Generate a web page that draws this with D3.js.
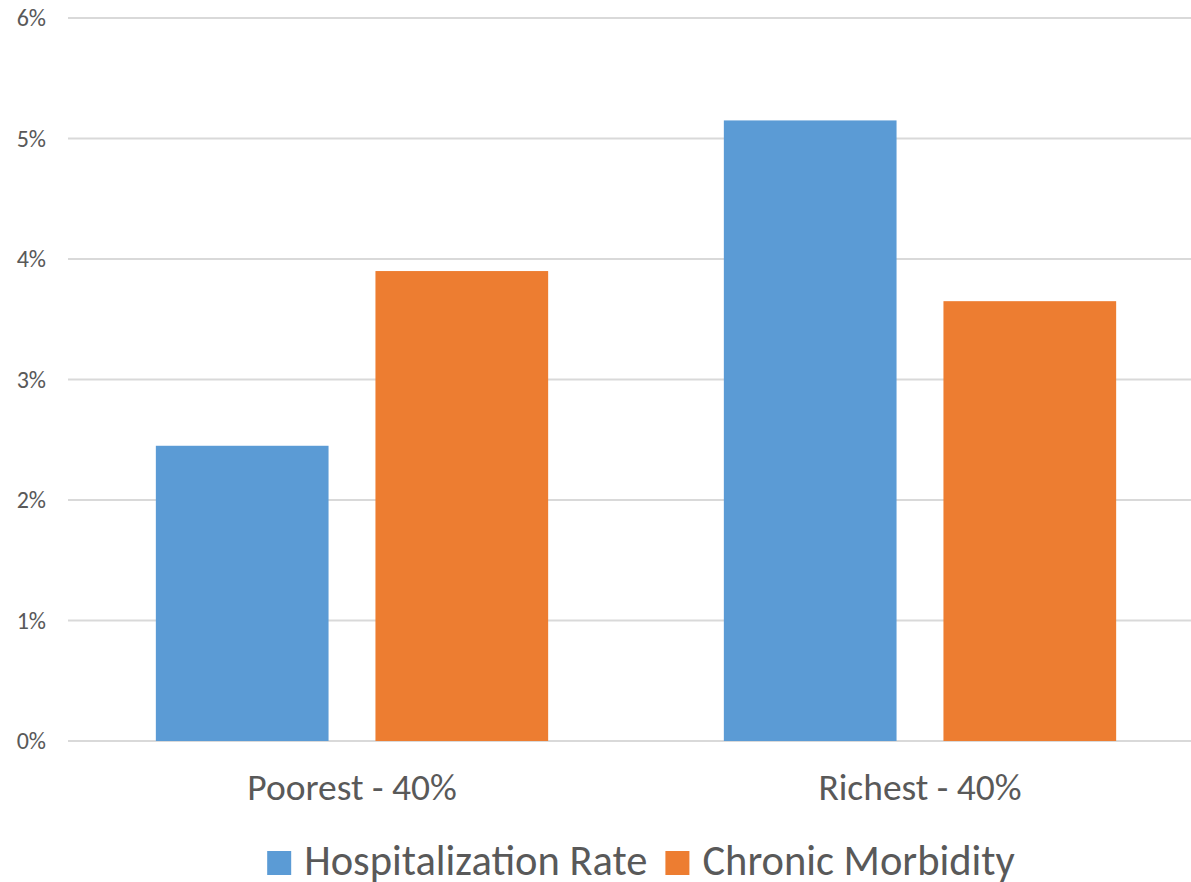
<!DOCTYPE html>
<html>
<head>
<meta charset="utf-8">
<script src="https://cdn.jsdelivr.net/npm/d3@7"></script>
<style>
  html, body { margin: 0; padding: 0; background: #fff; }
  svg { display: block; font-family: Carlito, Calibri, "Open Sans", sans-serif; }
</style>
</head>
<body>
<svg id="chart" width="1191" height="882"></svg>
<script>
// Share of population by income group
const categories = ["Poorest - 40%", "Richest - 40%"];
const seriesNames = ["Hospitalization Rate", "Chronic Morbidity"];
const hospitalization = [0.0245, 0.0515];
const chronic = [0.039, 0.0365];
const yTicks = [0, 0.01, 0.02, 0.03, 0.04, 0.05, 0.06];
const colors = ["#5b9bd5", "#ed7d31"];

(function () {
  const seriesValues = [hospitalization, chronic];
  const fontStack = "Carlito, Calibri, 'Open Sans', sans-serif";
  const textColor = "#595959";

  const svg = d3.select("#chart");
  const W = 1191;
  const plotLeft = 68, plotRight = 1204, plotTop = 18, plotBottom = 741;

  const x0 = d3.scaleBand().domain(categories).range([plotLeft, plotRight]).padding(0);
  const x1 = d3.scaleBand().domain(seriesNames).range([0, x0.bandwidth()])
    .paddingInner(0.2136).paddingOuter(0.4);
  const y = d3.scaleLinear().domain([0, 0.06]).range([plotBottom, plotTop]);

  // gridlines
  svg.append("g")
    .selectAll("line")
    .data(yTicks)
    .join("line")
    .attr("x1", plotLeft).attr("x2", W)
    .attr("y1", d => y(d)).attr("y2", d => y(d))
    .attr("stroke", "#d9d9d9").attr("stroke-width", 2);

  // y axis labels
  const yAxis = d3.axisLeft(y).tickValues(yTicks).tickFormat(d3.format(".0%")).tickSize(0).tickPadding(0);
  const gy = svg.append("g").attr("transform", "translate(46,0)").call(yAxis);
  gy.select(".domain").remove();
  gy.selectAll("text").attr("fill", textColor).style("font-size", "24px").style("font-family", fontStack);

  // bars
  const groups = svg.append("g")
    .selectAll("g")
    .data(categories)
    .join("g")
    .attr("transform", d => `translate(${x0(d)},0)`);

  groups.selectAll("rect")
    .data((c, i) => seriesNames.map((s, j) => ({ s, j, v: seriesValues[j][i] })))
    .join("rect")
    .attr("x", d => x1(d.s))
    .attr("width", x1.bandwidth())
    .attr("y", d => y(d.v))
    .attr("height", d => y(0) - y(d.v))
    .attr("fill", d => colors[d.j]);

  // category axis
  const xAxis = d3.axisBottom(x0).tickSize(0).tickPadding(0);
  const gx = svg.append("g").attr("transform", `translate(0,${plotBottom})`).call(xAxis);
  gx.select(".domain").remove();
  gx.selectAll("text").attr("fill", textColor).attr("dy", 0).attr("y", 59)
    .style("font-size", "37.5px").style("font-family", fontStack);

  // legend
  const legend = svg.append("g");
  const fs = 42.5, sq = 24, gapSq = 13, gapItem = 18;
  let cx = 0;
  seriesNames.forEach((name, i) => {
    const g = legend.append("g").attr("transform", `translate(${cx},0)`);
    g.append("rect").attr("x", 0).attr("y", -24).attr("width", sq).attr("height", sq).attr("fill", colors[i]);
    const t = g.append("text").attr("x", sq + gapSq).attr("y", 0)
      .attr("fill", textColor).style("font-size", fs + "px").style("font-family", fontStack).text(name);
    cx += sq + gapSq + t.node().getComputedTextLength() + gapItem;
  });
  const legendW = cx - gapItem;
  legend.attr("transform", `translate(${641 - legendW / 2},875)`);
})();
</script>
</body>
</html>
